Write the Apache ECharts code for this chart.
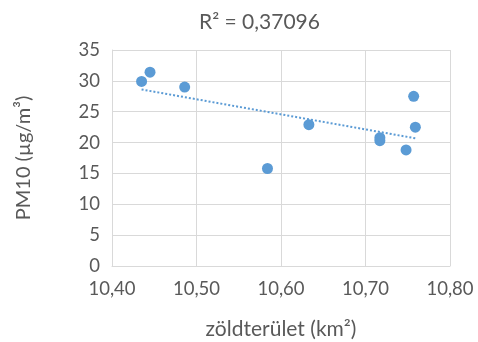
<!DOCTYPE html>
<html><head><meta charset="utf-8">
<script src="https://cdn.jsdelivr.net/npm/echarts@6/dist/echarts.min.js"></script>
<style>html,body{margin:0;padding:0;background:#fff}#c{width:478px;height:342px}</style>
</head><body><div id="c"></div>
<script>
var greenArea = [10.435, 10.445, 10.486, 10.584, 10.633, 10.717, 10.717, 10.748, 10.757, 10.759];
var pm10 = [29.9, 31.4, 29.0, 15.8, 22.9, 20.8, 20.3, 18.8, 27.5, 22.5];
var xTicks = [10.4, 10.5, 10.6, 10.7, 10.8];
var yTicks = [0, 5, 10, 15, 20, 25, 30, 35];
var titleText = 'R² = 0,37096';
var xName = 'zöldterület (km²)';
var yName = 'PM10 (µg/m³)';

var pts = greenArea.map(function(x, i){ return [x, pm10[i]]; });
// least-squares trend line
var n = pts.length, mx = 0, my = 0;
pts.forEach(function(p){ mx += p[0]; my += p[1]; });
mx /= n; my /= n;
var sxy = 0, sxx = 0;
pts.forEach(function(p){ sxy += (p[0]-mx)*(p[1]-my); sxx += (p[0]-mx)*(p[0]-mx); });
var slope = sxy / sxx, icpt = my - slope*mx;
var xmin = Math.min.apply(null, greenArea), xmax = Math.max.apply(null, greenArea);
var trend = [[xmin, icpt + slope*xmin], [xmax, icpt + slope*xmax]];

var txt = '#595959', font = 'Lato';
var chart = echarts.init(document.getElementById('c'));
chart.setOption({
  animation: false,
  title: { text: titleText, left: 194, top: 7, textStyle: { color: txt, fontFamily: font, fontSize: 21, fontWeight: 'normal' } },
  grid: { left: 112, right: 28, top: 50, bottom: 76, containLabel: false, outerBoundsMode: 'none' },
  xAxis: {
    type: 'value', min: xTicks[0], max: xTicks[xTicks.length-1], interval: 0.1,
    name: xName, nameLocation: 'middle', nameGap: 53,
    nameTextStyle: { color: txt, fontFamily: font, fontSize: 21 },
    axisLine: { show: true, lineStyle: { color: '#d9d9d9' } }, axisTick: { show: false },
    axisLabel: { color: txt, fontFamily: font, fontSize: 18.5, margin: 14, formatter: function(v){ return v.toFixed(2).replace('.', ','); } },
    splitLine: { show: true, lineStyle: { color: '#d9d9d9' } }
  },
  yAxis: {
    type: 'value', min: yTicks[0], max: yTicks[yTicks.length-1], interval: 5,
    name: yName, nameLocation: 'middle', nameGap: 78, nameRotate: 90,
    nameTextStyle: { color: txt, fontFamily: font, fontSize: 20 },
    axisLine: { show: true, lineStyle: { color: '#d9d9d9' } }, axisTick: { show: false },
    axisLabel: { color: txt, fontFamily: font, fontSize: 18.5, margin: 12 },
    splitLine: { show: true, lineStyle: { color: '#d9d9d9' } }
  },
  series: [
    { type: 'line', data: trend, symbol: 'none', lineStyle: { color: '#5b9bd5', width: 2, type: [2, 2] }, z: 1 },
    { type: 'scatter', data: pts, symbolSize: 11, itemStyle: { color: '#5b9bd5', opacity: 1 }, z: 2 }
  ]
});
</script></body></html>
